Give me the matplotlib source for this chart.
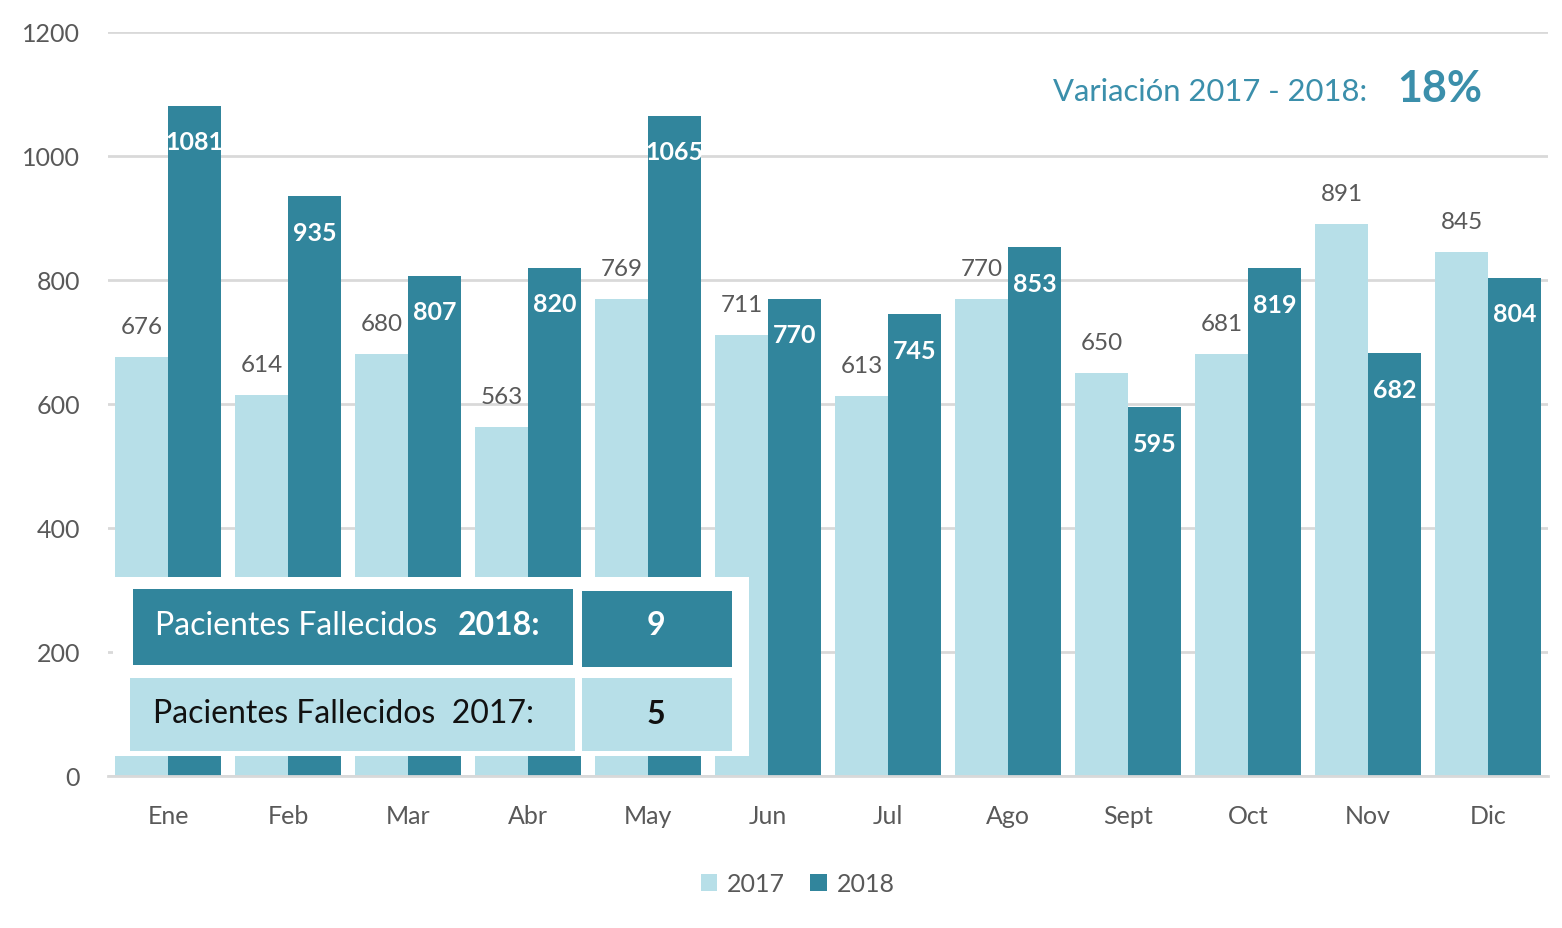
import matplotlib
matplotlib.use("Agg")
import matplotlib.pyplot as plt
from matplotlib.patches import Rectangle
import numpy as np

months = ["Ene", "Feb", "Mar", "Abr", "May", "Jun", "Jul", "Ago", "Sept", "Oct", "Nov", "Dic"]
vals_2017 = [676, 614, 680, 563, 769, 711, 613, 770, 650, 681, 891, 845]
vals_2018 = [1081, 935, 807, 820, 1065, 770, 745, 853, 595, 819, 682, 804]
series_names = ["2017", "2018"]
fallecidos_2018 = 9
fallecidos_2017 = 5
variacion = "18%"
yticks = [0, 200, 400, 600, 800, 1000, 1200]

C17 = "#b7dfe8"
C18 = "#31859c"
GRAY = "#595959"
TEAL_TXT = "#3b8fab"

plt.rcParams['font.family'] = ['Lato', 'DejaVu Sans']

W, H = 1562, 929
fig = plt.figure(figsize=(W / 100, H / 100), dpi=100)
fig.patch.set_facecolor("white")
ax = fig.add_axes([108 / W, 1 - 777 / H, (1548 - 108) / W, (777 - 33) / H])

x = np.arange(len(months))
bw = 0.44
ax.bar(x - bw / 2, vals_2017, bw, color=C17, label=series_names[0], zorder=2)
ax.bar(x + bw / 2, vals_2018, bw, color=C18, label=series_names[1], zorder=2)

for xi, v in zip(x, vals_2017):
    ax.annotate(str(v), (xi - bw / 2, v), xytext=(0, 22), textcoords="offset points",
                ha="center", va="center", fontsize=17.5, color=GRAY, zorder=3)
for xi, v in zip(x, vals_2018):
    ax.annotate(str(v), (xi + bw / 2, v), xytext=(0, -26), textcoords="offset points",
                ha="center", va="center", fontsize=18, color="white", fontweight="bold", zorder=3)

ax.set_xlim(-0.5, len(months) - 0.5)
ax.set_ylim(0, 1200)
ax.set_yticks(yticks)
ax.set_xticks(x)
ax.set_xticklabels(months)
ax.tick_params(axis="both", length=0, labelsize=18, labelcolor=GRAY)
ax.tick_params(axis="y", pad=20)
ax.tick_params(axis="x", pad=20)
ax.grid(axis="y", color="#d9d9d9", linewidth=2, zorder=0)
for s in ["top", "right", "left"]:
    ax.spines[s].set_visible(False)
ax.spines["bottom"].set_color("#d9d9d9")
ax.spines["bottom"].set_linewidth(2)

ax.legend(loc="upper center", bbox_to_anchor=(0.479, -0.099), ncol=2, frameon=False,
          fontsize=18, handlelength=0.65, handleheight=0.65, columnspacing=1.0,
          handletextpad=0.4, labelcolor=GRAY)

# overlay table
def fx(px):
    return px / W

def fy(py):
    return 1 - py / H

def rect(x0, y0, x1, y1, color):
    fig.patches.append(Rectangle((fx(x0), fy(y1)), fx(x1) - fx(x0), fy(y0) - fy(y1),
                                 transform=fig.transFigure, facecolor=color,
                                 edgecolor="none", zorder=5))

rect(113, 578, 749, 757, "white")
rect(133, 590, 573, 666, C18)
rect(582, 592, 732, 668, C18)
rect(130, 679, 575, 752, C17)
rect(582, 679, 732, 752, C17)

fig.text(fx(155), fy(626), "Pacientes Fallecidos", color="white", fontsize=23,
         ha="left", va="center", zorder=6)
fig.text(fx(540), fy(626), series_names[1] + ":", color="white", fontsize=23,
         fontweight="bold", ha="right", va="center", zorder=6)
fig.text(fx(153), fy(714), "Pacientes Fallecidos  " + series_names[0] + ":", color="#111111",
         fontsize=23, ha="left", va="center", zorder=6)
fig.text(fx(656), fy(626), str(fallecidos_2018), color="white", fontsize=23,
         fontweight="bold", ha="center", va="center", zorder=6)
fig.text(fx(656), fy(714), str(fallecidos_2017), color="#111111", fontsize=23,
         fontweight="bold", ha="center", va="center", zorder=6)

fig.text(fx(1367), fy(92), "Variación 2017 - 2018:", color=TEAL_TXT, fontsize=22.3,
         ha="right", va="center", zorder=6)
fig.text(fx(1482), fy(89), variacion, color=TEAL_TXT, fontsize=31, fontweight="bold",
         ha="right", va="center", zorder=6)

fig.savefig("out.png", dpi=100, facecolor="white")
